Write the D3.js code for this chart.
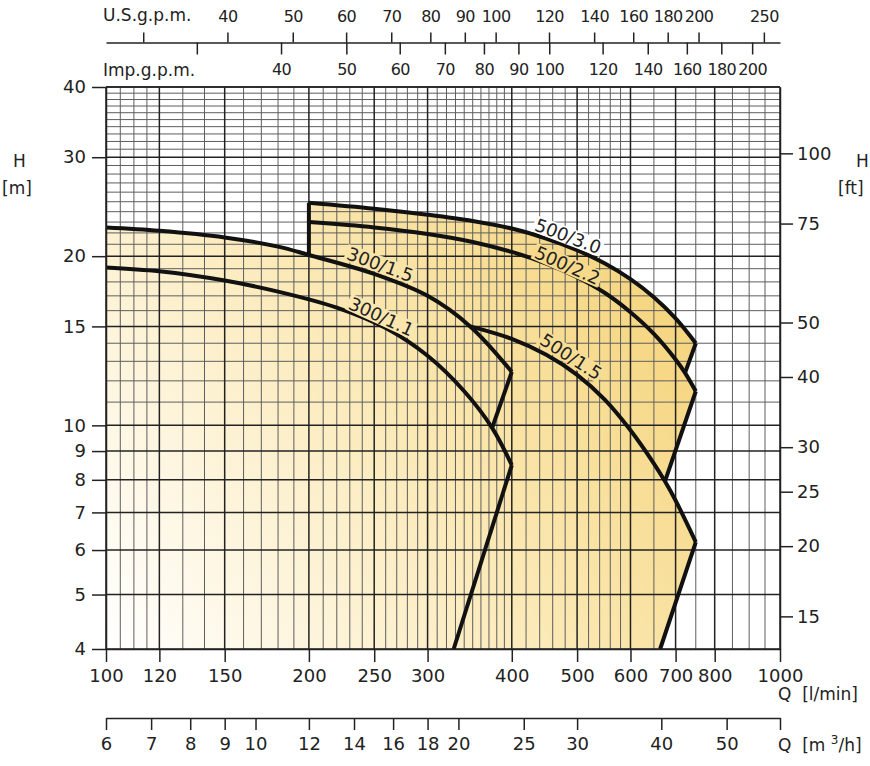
<!DOCTYPE html>
<html>
<head>
<meta charset="utf-8">
<script src="https://cdn.jsdelivr.net/npm/d3@7"></script>
<style>
  body { margin: 0; background: #fff; }
  text { font-family: "DejaVu Sans", sans-serif; fill: #222; white-space: pre; }
</style>
</head>
<body>
<svg id="chart" width="870" height="766"></svg>
<script>
// tick values
const qTicks = [100, 120, 150, 200, 250, 300, 400, 500, 600, 700, 800, 1000];
const hTicks = [4, 5, 6, 7, 8, 9, 10, 15, 20, 30, 40];
const hMinor = [11, 12, 13, 14, 16, 17, 18, 19, 21, 22, 23, 24, 25, 26, 27, 28, 29,
                31, 32, 33, 34, 35, 36, 37, 38, 39];
const ftTicks = [15, 20, 25, 30, 40, 50, 75, 100];
const m3hTicks = [6, 7, 8, 9, 10, 12, 14, 16, 18, 20, 25, 30, 40, 50, 60];
const usTicks = [30, 40, 50, 60, 70, 80, 90, 100, 120, 140, 160, 180, 200, 250];
const impTicks = [30, 40, 50, 60, 70, 80, 90, 100, 120, 140, 160, 180, 200];

// pump curves: Q [l/min], H [m]
const q300_11 = [100, 120, 150, 180, 220, 260, 300, 340, 374, 400];
const h300_11 = [19.1, 18.8, 18.1, 17.3, 16.2, 14.9, 13.3, 11.5, 9.9, 8.5];
const q300_15 = [100, 120, 150, 180, 200, 250, 300, 347, 400];
const h300_15 = [22.5, 22.2, 21.6, 20.8, 20.1, 18.6, 17.0, 15.0, 12.45];
const q500_15 = [347, 400, 450, 500, 550, 600, 650, 675, 700, 750];
const h500_15 = [15.0, 14.25, 13.35, 12.3, 11.1, 9.8, 8.55, 7.95, 7.35, 6.2];
const q500_22 = [200, 250, 300, 350, 400, 450, 500, 550, 600, 650, 700, 723, 750];
const h500_22 = [23.0, 22.5, 21.9, 21.2, 20.35, 19.4, 18.35, 17.2, 15.9, 14.55, 13.1, 12.4, 11.5];
const q500_30 = [200, 250, 300, 350, 400, 450, 500, 550, 600, 650, 700, 750];
const h500_30 = [24.9, 24.3, 23.7, 23.1, 22.4, 21.5, 20.5, 19.4, 18.2, 16.9, 15.5, 14.0];

// limit lines (end of one curve -> next curve)
const limitQ = [[400, 374], [400, 328], [750, 723], [750, 675], [750, 664], [200, 200]];
const limitH = [[12.45, 9.9], [8.5, 4], [14.0, 12.4], [11.5, 7.95], [6.2, 4], [20.1, 24.9]];

const curveNames = ["300/1.1", "300/1.5", "500/1.5", "500/2.2", "500/3.0"];
const labelQ = [253, 252, 479, 479, 479];

const curves = [
  {q: q300_11, h: h300_11}, {q: q300_15, h: h300_15}, {q: q500_15, h: h500_15},
  {q: q500_22, h: h500_22}, {q: q500_30, h: h500_30}
];

const svg = d3.select("#chart");
const x = d3.scaleLog().domain([100, 1000]).range([106, 780]);
const y = d3.scaleLog().domain([4, 40]).range([649, 87]);
const xM3 = d3.scaleLog().domain([6, 60]).range(x.range());
const xUS = d3.scaleLog().domain([100 / 3.78541, 1000 / 3.78541]).range(x.range());
const xImp = d3.scaleLog().domain([100 / 4.54609, 1000 / 4.54609]).range(x.range());
const yFt = d3.scaleLog().domain([4 * 3.28084, 40 * 3.28084]).range(y.range());

const gradStart = [106, 649], gradEnd = [720, 230];
const gradColors = ["#ffffff", "#fbe9b6", "#f3cf6e"];
const grad = svg.append("defs").append("linearGradient")
  .attr("id", "fillGrad").attr("gradientUnits", "userSpaceOnUse")
  .attr("x1", gradStart[0]).attr("y1", gradStart[1])
  .attr("x2", gradEnd[0]).attr("y2", gradEnd[1]);
grad.selectAll("stop").data(gradColors).join("stop")
  .attr("offset", (d, i) => i / (gradColors.length - 1))
  .attr("stop-color", d => d);
const gradAt = (px, py) => {
  const dx = gradEnd[0] - gradStart[0], dy = gradEnd[1] - gradStart[1];
  const t = Math.max(0, Math.min(1, ((px - gradStart[0]) * dx + (py - gradStart[1]) * dy) / (dx * dx + dy * dy)));
  return d3.piecewise(d3.interpolateRgb, gradColors)(t);
};

const line = d3.line().x(d => x(d[0])).y(d => y(d[1])).curve(d3.curveCatmullRom.alpha(0.5));
const pts = (c, lo, hi) => c.q.map((q, i) => [q, c.h[i]]).filter(d => d[0] >= lo && d[0] <= hi);
const asL = s => s.replace(/^M/, "L");

// shaded operating area
let dFill = `M${x(100)},${y(4)}`;
dFill += asL(line(pts(curves[1], 0, 200)));
dFill += asL(line(pts(curves[4], 0, 2000)));
dFill += asL(line(pts(curves[3], 723, 2000)));
dFill += asL(line(pts(curves[2], 675, 2000)));
dFill += `L${x(664)},${y(4)}Z`;
svg.append("path").attr("d", dFill).attr("fill", "url(#fillGrad)");

// grid
const qMinor = [].concat(d3.range(105, 120, 5), d3.range(130, 400, 10), d3.range(420, 600, 20), d3.range(650, 1000, 50))
  .filter(v => !qTicks.includes(v));
const grid = svg.append("g");
grid.selectAll(".vmin").data(qMinor).join("line")
  .attr("x1", d => x(d)).attr("x2", d => x(d)).attr("y1", y(4)).attr("y2", y(40))
  .attr("stroke", "#5e5e5e").attr("stroke-width", 1);
grid.selectAll(".hmin").data(hMinor).join("line")
  .attr("x1", x(100)).attr("x2", x(1000)).attr("y1", d => y(d)).attr("y2", d => y(d))
  .attr("stroke", "#5e5e5e").attr("stroke-width", 1);
grid.selectAll(".vmaj").data(qTicks).join("line")
  .attr("x1", d => x(d)).attr("x2", d => x(d)).attr("y1", y(4)).attr("y2", y(40))
  .attr("stroke", "#222").attr("stroke-width", 1.5);
grid.selectAll(".hmaj").data(hTicks).join("line")
  .attr("x1", x(100)).attr("x2", x(1000)).attr("y1", d => y(d)).attr("y2", d => y(d))
  .attr("stroke", "#222").attr("stroke-width", 1.5);

// curves
const cg = svg.append("g").attr("fill", "none").attr("stroke", "#111").attr("stroke-width", 4)
  .attr("stroke-linejoin", "round");
curves.forEach(c => cg.append("path").attr("d", line(pts(c, 0, 2000))));
limitQ.forEach((lq, i) => cg.append("path")
  .attr("d", d3.line().x(d => x(d[0])).y(d => y(d[1]))(lq.map((q, j) => [q, limitH[i][j]]))));

// curve labels
const hAt = (c, q) => {
  const lx = d3.scaleLog().domain(c.q).range(c.h.map(Math.log));
  return Math.exp(lx(q));
};
const labelOff = [9, 11, 12, 7, 10];
curveNames.forEach((name, i) => {
  const c = curves[i], q = labelQ[i];
  const p0 = [x(q * 0.96), y(hAt(c, q * 0.96))], p1 = [x(q * 1.04), y(hAt(c, q * 1.04))];
  const ang = Math.atan2(p1[1] - p0[1], p1[0] - p0[0]);
  const cx = x(q) + Math.sin(ang) * labelOff[i], cy = y(hAt(c, q)) - Math.cos(ang) * labelOff[i];
  const g = svg.append("g").attr("transform", `translate(${cx},${cy}) rotate(${ang * 180 / Math.PI})`);
  const bg = g.append("rect");
  const t = g.append("text").attr("text-anchor", "middle").attr("dy", "0.36em")
    .style("font-size", "18px").text(name);
  const b = t.node().getBBox();
  bg.attr("x", b.x - 2).attr("y", b.y + 2).attr("width", b.width + 4).attr("height", b.height - 4)
    .attr("fill", name === "500/3.0" ? "#fff" : gradAt(cx, cy));
});

// axes
const styleAxis = (g, size = "18px", spacing = "0px") => {
  g.selectAll("path, line").attr("stroke", "#222").attr("stroke-width", 1.5);
  g.selectAll("text").style("font-size", size).style("letter-spacing", spacing).attr("fill", "#222")
    .style("font-family", "'DejaVu Sans', sans-serif");
};
svg.append("g").attr("transform", `translate(0,${y(4)})`)
  .call(d3.axisBottom(x).tickValues(qTicks).tickFormat(d => d).tickSize(13).tickPadding(7).tickSizeOuter(0))
  .call(g => styleAxis(g));
svg.append("g").attr("transform", `translate(${x(100)},0)`)
  .call(d3.axisLeft(y).tickValues(hTicks).tickFormat(d => d).tickSize(14).tickPadding(6).tickSizeOuter(0))
  .call(g => styleAxis(g));
svg.append("g").attr("transform", `translate(${x(1000)},0)`)
  .call(d3.axisRight(yFt).tickValues(ftTicks).tickFormat(d => d).tickSize(13).tickPadding(4).tickSizeOuter(0))
  .call(g => styleAxis(g));
svg.append("line").attr("x1", x(100)).attr("x2", x(1000)).attr("y1", y(40)).attr("y2", y(40))
  .attr("stroke", "#222").attr("stroke-width", 1.5);
svg.append("g").attr("transform", "translate(0,718)")
  .call(d3.axisBottom(xM3).tickValues(m3hTicks).tickFormat(d => d === 60 ? "" : d).tickSize(12).tickPadding(7).tickSizeOuter(0))
  .call(g => styleAxis(g));
svg.append("g").attr("transform", "translate(0,42.5)")
  .call(d3.axisTop(xUS).tickValues(usTicks).tickFormat(d => d === 30 ? "" : d).tickSize(10).tickPadding(11).tickSizeOuter(0))
  .call(g => styleAxis(g, "16px", "-0.6px"));
svg.append("g").attr("transform", "translate(0,42.5)")
  .call(d3.axisBottom(xImp).tickValues(impTicks).tickFormat(d => d === 30 ? "" : d).tickSize(12).tickPadding(9).tickSizeOuter(0))
  .call(g => g.select(".domain").remove())
  .call(g => styleAxis(g, "16px", "-0.6px"));

// titles
const title = (tx, ty, s) => svg.append("text").attr("x", tx).attr("y", ty).style("font-size", "17px").text(s);
title(103, 21, "U.S.g.p.m.");
title(103, 76, "Imp.g.p.m.");
title(13, 167, "H");
title(2, 194, "[m]");
title(856, 167, "H");
title(838, 194, "[ft]");
title(778, 700, "Q  [l/min]");
svg.append("text").attr("x", 778).attr("y", 751).style("font-size", "17px")
  .call(t => {
    t.append("tspan").text("Q  [m ");
    t.append("tspan").attr("dy", -7).style("font-size", "12px").text("3");
    t.append("tspan").attr("dy", 7).text("/h]");
  });
</script>
</body>
</html>
